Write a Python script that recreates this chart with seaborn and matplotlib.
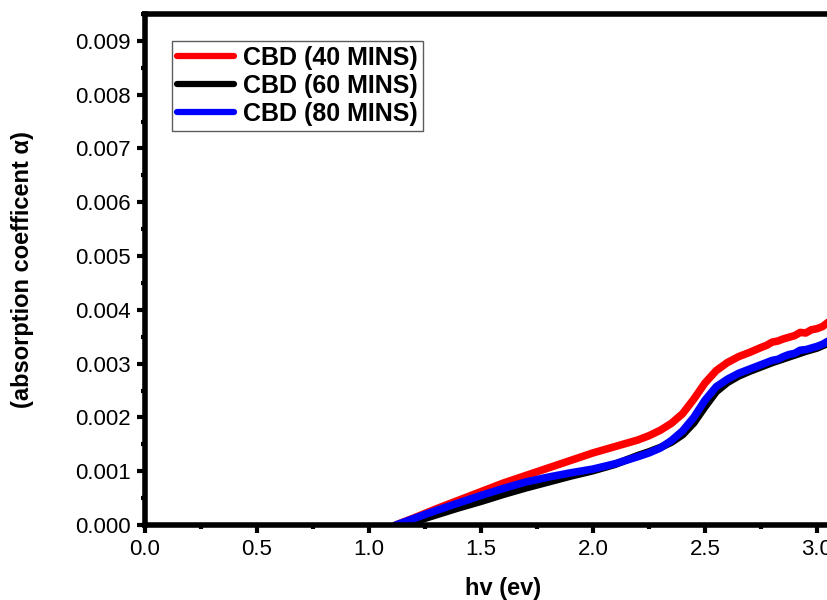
import numpy as np
import pandas as pd
import matplotlib
matplotlib.use("Agg")
import matplotlib.pyplot as plt
import seaborn as sns
from matplotlib.ticker import MultipleLocator, FormatStrFormatter

# ---------------- data ----------------
x_40 = [1.12, 1.2, 1.3, 1.4, 1.5, 1.6, 1.7, 1.8, 1.9, 2.0, 2.1, 2.2, 2.25, 2.3,
        2.35, 2.4, 2.45, 2.5, 2.55, 2.6, 2.65, 2.7, 2.75, 2.775, 2.8, 2.825,
        2.85, 2.875, 2.9, 2.925, 2.95, 2.975, 3.0, 3.025, 3.05, 3.1]
y_40 = [0.0, 0.00013, 0.0003, 0.00046, 0.00062, 0.00078, 0.00092, 0.00106,
        0.0012, 0.00134, 0.00146, 0.00158, 0.00166, 0.00176, 0.00189, 0.00207,
        0.00234, 0.00264, 0.00287, 0.00302, 0.00313, 0.00321, 0.00330, 0.00334,
        0.0034, 0.00342, 0.00346, 0.00349, 0.00352, 0.00358, 0.00357, 0.00363,
        0.00365, 0.00369, 0.00377, 0.0038]

x_60 = [1.15, 1.2, 1.3, 1.4, 1.5, 1.6, 1.7, 1.8, 1.9, 2.0, 2.1, 2.2, 2.25, 2.3,
        2.35, 2.4, 2.45, 2.5, 2.55, 2.6, 2.65, 2.7, 2.75, 2.8, 2.85, 2.9, 2.95,
        3.0, 3.05, 3.1]
y_60 = [0.0, 0.00006, 0.00019, 0.00032, 0.00044, 0.00057, 0.00069, 0.0008,
        0.00091, 0.00101, 0.00113, 0.00129, 0.00136, 0.00144, 0.00154, 0.00168,
        0.0019, 0.0022, 0.00248, 0.00265, 0.00277, 0.00286, 0.00294, 0.00302,
        0.00309, 0.00316, 0.00323, 0.00329, 0.00338, 0.00342]

x_80 = [1.12, 1.2, 1.3, 1.4, 1.5, 1.6, 1.7, 1.8, 1.9, 2.0, 2.1, 2.2, 2.25, 2.3,
        2.35, 2.4, 2.45, 2.5, 2.55, 2.6, 2.65, 2.7, 2.75, 2.775, 2.8, 2.825,
        2.85, 2.875, 2.9, 2.925, 2.95, 2.975, 3.0, 3.025, 3.05, 3.1]
y_80 = [0.0, 0.00012, 0.00027, 0.00041, 0.00055, 0.00068, 0.0008, 0.00089,
        0.00097, 0.00104, 0.00114, 0.00127, 0.00134, 0.00143, 0.00157, 0.00175,
        0.002, 0.00232, 0.00257, 0.00271, 0.00282, 0.0029, 0.00298, 0.00302,
        0.00306, 0.00308, 0.00313, 0.00317, 0.00319, 0.00325, 0.00326, 0.00329,
        0.00332, 0.00336, 0.00342, 0.00345]

labels = ["CBD (40 MINS)", "CBD (60 MINS)", "CBD (80 MINS)"]
colors = ["#ff0000", "#000000", "#0000ff"]

x_ticks = [0.0, 0.5, 1.0, 1.5, 2.0, 2.5, 3.0]
y_ticks = [0.000, 0.001, 0.002, 0.003, 0.004, 0.005, 0.006, 0.007, 0.008, 0.009]

# ---------------- style ----------------
sns.set_style("ticks")
plt.rcParams["font.family"] = ["Liberation Sans", "DejaVu Sans"]
plt.rcParams["text.color"] = "black"
plt.rcParams["axes.labelcolor"] = "black"
plt.rcParams["xtick.color"] = "black"
plt.rcParams["ytick.color"] = "black"

fig = plt.figure(figsize=(8.28, 6.0), dpi=100)
x_max = 3.2
ax = fig.add_axes([145 / 828, 75 / 600, x_max * 224 / 828, 511 / 600])

series = [(x_40, y_40), (x_60, y_60), (x_80, y_80)]
for (xs, ys), lab, col in zip(series, labels, colors):
    df = pd.DataFrame({"x": xs, "y": ys})
    sns.lineplot(data=df, x="x", y="y", ax=ax, color=col, linewidth=5.5,
                 label=lab, solid_capstyle="round", solid_joinstyle="round")

ax.set_xlim(0, x_max)
ax.set_ylim(0, 0.0095)
ax.set_xticks(x_ticks)
ax.set_yticks(y_ticks)
ax.xaxis.set_major_formatter(FormatStrFormatter("%.1f"))
ax.yaxis.set_major_formatter(FormatStrFormatter("%.3f"))
ax.xaxis.set_minor_locator(MultipleLocator(0.25))
ax.yaxis.set_minor_locator(MultipleLocator(0.0005))

for side in ["left", "bottom", "top", "right"]:
    ax.spines[side].set_linewidth(4)
    ax.spines[side].set_color("black")

ax.tick_params(axis="both", which="major", direction="out", length=6, width=3,
               labelsize=16, colors="black", labelcolor="black", pad=4)
ax.tick_params(axis="both", which="minor", direction="out", length=3, width=3,
               colors="black")

ax.set_xlabel("hv (ev)", fontsize=17, fontweight="bold", labelpad=12,
              color="black")
ax.set_ylabel("(absorption coefficent α)", fontsize=17, fontweight="bold",
              labelpad=30, color="black")

leg = ax.legend(loc="upper left", bbox_to_anchor=(172 / 828, 1 - 41 / 600),
                bbox_transform=fig.transFigure, borderaxespad=0,
                frameon=True, fancybox=False,
                prop={"weight": "bold", "size": 18}, handlelength=2.3,
                handletextpad=0.35, labelspacing=0.15, borderpad=0.2)
leg.get_frame().set_edgecolor("#333333")
leg.get_frame().set_linewidth(1.0)
for line in leg.get_lines():
    line.set_linewidth(4.5)
for t in leg.get_texts():
    t.set_color("black")

fig.savefig("out.png", dpi=100)
